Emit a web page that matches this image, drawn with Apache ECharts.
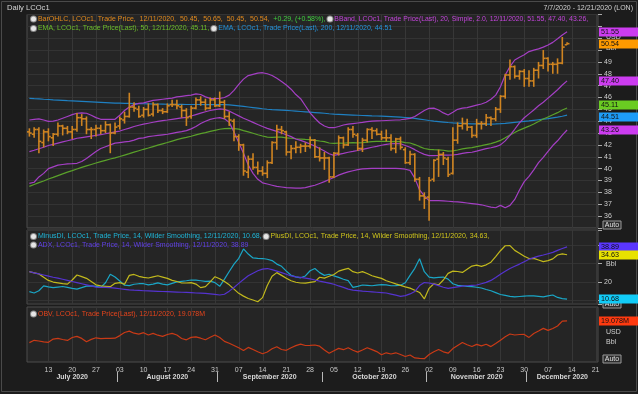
<!DOCTYPE html>
<html><head><meta charset="utf-8">
<script src="https://cdn.jsdelivr.net/npm/echarts@6/dist/echarts.min.js"></script>
<style>html,body{margin:0;padding:0;background:#1c1c1c;}#c{width:638px;height:394px;}</style>
</head><body><div id="c"></div>
<script>
const dates = ['7/7','7/8','7/9','7/10','7/13','7/14','7/15','7/16','7/17','7/20','7/21','7/22','7/23','7/24','7/27','7/28','7/29','7/30','7/31',
'8/3','8/4','8/5','8/6','8/7','8/10','8/11','8/12','8/13','8/14','8/17','8/18','8/19','8/20','8/21','8/24','8/25','8/26','8/27','8/28','8/31',
'9/1','9/2','9/3','9/4','9/7','9/8','9/9','9/10','9/11','9/14','9/15','9/16','9/17','9/18','9/21','9/22','9/23','9/24','9/25','9/28','9/29','9/30',
'10/1','10/2','10/5','10/6','10/7','10/8','10/9','10/12','10/13','10/14','10/15','10/16','10/19','10/20','10/21','10/22','10/23','10/26','10/27','10/28','10/29','10/30',
'11/2','11/3','11/4','11/5','11/6','11/9','11/10','11/11','11/12','11/13','11/16','11/17','11/18','11/19','11/20','11/23','11/24','11/25','11/26','11/27','11/30',
'12/1','12/2','12/3','12/4','12/7','12/8','12/9','12/10','12/11','12/14','12/15','12/16','12/17','12/18','12/21'];
const dayTicks = ['7/13','7/20','7/27','8/3','8/10','8/17','8/24','8/31','9/7','9/14','9/21','9/28','10/5','10/12','10/19','10/26','11/2','11/9','11/16','11/23','11/30','12/7','12/14','12/21'];
const monthNames = ['July 2020','August 2020','September 2020','October 2020','November 2020','December 2020'];
const monthNums = ['7','8','9','10','11','12'];
const lastDate = '12/11/2020';

const openP = [43.1,42.9,43.3,42.2,43.1,42.6,42.9,43.6,43.4,43.1,
 43.3,44.3,44.2,43.3,43.3,43.4,43.2,43.7,43.0,43.6,
 44.1,44.4,45.2,45.0,44.5,45.0,44.6,45.4,44.9,44.8,
 45.4,45.4,45.2,44.9,44.4,45.1,45.8,45.6,45.1,45.8,
 45.3,45.6,44.4,44.0,42.7,42.0,39.7,40.8,40.1,39.8,
 39.6,40.5,42.2,43.3,43.1,41.4,41.7,41.8,41.9,41.9,
 42.4,41.0,40.9,40.9,39.3,41.3,42.6,42.0,43.3,42.8,
 41.7,42.4,43.3,43.2,42.9,42.6,42.6,41.7,42.5,41.6,
 40.5,41.2,39.1,37.7,37.6,39.1,40.8,41.2,40.8,39.6,
 42.4,43.6,43.8,43.5,42.8,43.8,43.8,44.3,44.2,45.0,
 46.1,47.9,48.6,47.8,48.2,47.6,47.4,48.3,48.7,49.3,
 48.8,48.8,48.9,50.45];
const highP = [43.4,43.5,43.5,43.3,43.4,43.0,43.9,43.7,43.6,43.6,
 44.7,44.6,44.4,43.5,43.7,43.7,44.0,43.8,43.9,44.4,
 44.8,46.4,45.6,45.3,45.2,45.5,45.6,45.5,45.1,45.5,
 45.8,45.8,45.4,45.1,45.3,46.0,46.1,45.9,46.0,46.0,
 46.5,45.8,44.8,44.2,42.9,42.1,41.1,41.3,40.6,40.2,
 40.7,42.3,43.7,43.6,43.2,42.0,42.3,42.1,42.2,42.7,
 42.5,41.8,41.4,41.0,41.4,42.8,42.7,43.5,43.6,43.0,
 42.6,43.4,43.5,43.4,43.2,43.3,42.9,42.6,42.7,41.8,
 41.5,41.3,39.3,38.0,39.3,40.8,41.6,41.4,41.0,43.5,
 43.9,44.3,44.2,43.6,44.2,44.0,44.6,44.4,45.2,46.2,
 48.0,49.2,48.7,48.3,48.4,48.3,48.5,49.0,50.0,49.4,
 49.0,49.3,51.1,50.65];
const lowP = [42.7,42.6,41.3,41.8,42.3,41.9,42.7,42.8,42.9,42.5,
 43.1,43.6,42.9,42.5,42.7,42.9,43.0,41.3,42.9,43.3,
 43.8,44.3,44.8,44.3,44.3,44.4,44.4,44.7,44.6,44.7,
 45.2,45.0,44.3,43.6,44.2,45.0,45.3,44.9,45.0,45.2,
 45.2,44.2,43.6,42.3,41.5,39.4,39.2,39.9,39.5,39.4,
 39.2,40.4,41.6,42.9,41.1,40.8,41.3,41.3,41.4,41.7,
 40.9,40.6,39.9,38.8,39.2,41.1,41.7,41.9,42.6,41.5,
 41.4,42.2,42.5,42.8,42.4,42.3,41.5,41.3,41.6,40.4,
 40.3,38.9,37.3,36.6,35.6,38.9,39.3,40.3,39.3,39.5,
 42.1,43.3,43.2,42.6,42.6,43.3,43.6,43.6,44.0,44.7,
 45.9,47.5,47.6,47.5,46.9,46.9,46.9,47.6,48.4,48.2,
 48.0,48.0,48.8,50.45];
const closeP = [43.0,43.3,42.3,43.1,42.7,42.9,43.6,43.4,43.1,43.3,
 44.3,44.2,43.3,43.3,43.4,43.2,43.7,43.0,43.5,44.2,
 44.4,45.2,45.1,44.4,45.0,44.5,45.4,44.9,44.8,45.3,
 45.4,45.3,44.9,44.3,45.1,45.8,45.6,45.1,45.8,45.3,
 45.6,44.4,44.1,42.7,42.0,39.8,40.8,40.1,39.8,39.6,
 40.5,42.2,43.3,43.2,41.4,41.7,41.8,41.9,41.9,42.4,
 41.0,40.9,40.9,39.3,41.3,42.6,42.0,43.3,42.9,41.7,
 42.4,43.3,43.2,42.9,42.6,42.6,41.7,42.5,41.8,40.5,
 41.2,39.1,37.7,37.5,39.0,40.7,41.2,40.9,39.5,42.4,
 43.6,43.8,43.5,42.8,43.8,43.8,44.3,44.2,45.0,46.1,
 47.9,48.6,47.8,48.2,47.6,47.4,48.3,48.7,49.3,48.8,
 48.8,48.9,50.25,50.54];

const bbUpper = [44.10,44.15,44.20,44.10,43.98,44.00,44.10,44.25,44.40,44.55,
 44.67,44.70,44.67,44.50,44.30,44.16,44.15,44.15,44.16,44.50,
 44.90,45.20,45.40,45.50,45.55,45.65,45.75,45.80,45.85,45.90,
 45.95,46.05,46.10,46.15,46.20,46.30,46.25,46.05,45.93,45.90,
 45.93,46.00,46.20,46.60,47.10,47.55,47.85,47.95,48.05,48.09,
 48.00,47.85,47.62,47.35,47.05,46.70,46.25,45.90,45.30,44.70,
 44.25,43.85,43.60,43.45,43.45,43.55,43.68,43.75,43.80,43.85,
 43.90,43.96,44.00,44.02,44.04,44.06,44.08,44.10,44.12,44.18,
 44.24,44.40,44.65,44.90,45.09,45.10,44.95,44.70,44.52,44.75,
 45.00,45.10,45.15,45.25,45.35,45.45,45.60,45.85,46.20,46.90,
 47.90,48.60,49.16,49.40,49.60,49.87,50.00,50.10,50.25,50.43,
 50.65,50.95,51.27,51.55];
const bbMid = [41.43,41.55,41.68,41.80,41.95,42.05,42.15,42.25,42.35,42.45,
 42.56,42.62,42.68,42.74,42.80,42.86,42.94,43.02,43.10,43.17,
 43.30,43.42,43.55,43.66,43.75,43.83,43.91,43.98,44.05,44.10,
 44.16,44.22,44.28,44.33,44.44,44.56,44.68,44.80,44.90,44.98,
 45.04,45.00,44.85,44.65,44.45,44.25,44.08,43.90,43.72,43.55,
 43.40,43.27,43.14,43.00,42.86,42.70,42.50,42.38,42.23,42.08,
 41.90,41.70,41.48,41.25,41.12,41.20,41.28,41.38,41.45,41.53,
 41.62,41.71,41.80,41.88,41.97,42.05,42.10,42.12,42.10,41.95,
 41.80,41.60,41.38,41.20,41.10,41.10,41.12,41.15,41.14,41.15,
 41.20,41.28,41.35,41.38,41.47,41.58,41.68,41.76,41.85,42.00,
 42.34,42.80,43.32,43.86,44.29,44.62,44.95,45.30,45.60,45.95,
 46.30,46.65,47.05,47.40];
const bbLower = [38.76,38.85,39.30,39.60,40.00,40.15,40.30,40.35,40.40,40.42,
 40.45,40.60,40.85,41.15,41.45,41.70,41.85,42.00,42.15,42.20,
 42.25,42.30,42.40,42.55,42.60,42.70,42.75,42.80,42.85,42.90,
 42.98,43.05,43.12,43.20,43.35,43.55,43.80,44.00,44.15,44.25,
 44.30,44.20,43.90,43.10,42.20,41.30,40.30,39.60,39.10,38.80,
 38.70,38.60,38.50,38.45,38.40,38.38,38.35,38.35,38.40,38.50,
 38.60,38.75,38.90,39.08,39.25,39.45,39.60,39.72,39.82,39.92,
 39.98,40.00,40.02,40.02,40.02,40.02,40.02,40.02,40.00,39.95,
 39.85,39.20,38.20,37.70,37.30,37.30,37.30,37.28,37.25,37.22,
 37.20,37.15,37.10,37.05,37.00,36.95,36.85,36.75,36.70,36.90,
 36.70,36.90,37.40,38.20,38.90,39.35,39.90,40.50,40.95,41.45,
 41.95,42.35,42.83,43.26];
const ema50 = [38.50,38.66,38.82,38.96,39.12,39.26,39.41,39.56,39.70,39.83,
 39.97,40.10,40.23,40.35,40.47,40.59,40.70,40.81,40.91,41.02,
 41.14,41.26,41.39,41.51,41.63,41.74,41.86,41.98,42.09,42.20,
 42.32,42.44,42.55,42.63,42.73,42.84,42.95,43.04,43.14,43.23,
 43.32,43.37,43.40,43.38,43.33,43.20,43.10,42.98,42.86,42.75,
 42.66,42.64,42.65,42.66,42.60,42.56,42.52,42.49,42.46,42.45,
 42.39,42.33,42.28,42.16,42.13,42.15,42.14,42.18,42.20,42.18,
 42.19,42.23,42.27,42.29,42.30,42.31,42.28,42.29,42.27,42.20,
 42.16,42.03,41.86,41.70,41.63,41.60,41.58,41.55,41.47,41.50,
 41.57,41.66,41.73,41.77,41.86,41.94,42.03,42.11,42.23,42.38,
 42.60,42.84,43.04,43.25,43.42,43.58,43.77,43.97,44.18,44.36,
 44.54,44.72,44.94,45.11];
const ema200 = [45.93,45.90,45.88,45.85,45.83,45.80,45.78,45.76,45.73,45.71,
 45.69,45.67,45.65,45.63,45.61,45.59,45.57,45.55,45.53,45.52,
 45.51,45.50,45.49,45.48,45.47,45.46,45.45,45.45,45.44,45.43,
 45.43,45.42,45.42,45.41,45.41,45.41,45.41,45.40,45.40,45.40,
 45.40,45.39,45.37,45.34,45.30,45.25,45.20,45.15,45.10,45.05,
 45.01,44.98,44.96,44.94,44.91,44.88,44.85,44.82,44.79,44.76,
 44.73,44.70,44.67,44.63,44.60,44.58,44.56,44.54,44.52,44.50,
 44.48,44.47,44.45,44.44,44.42,44.40,44.38,44.36,44.34,44.31,
 44.28,44.24,44.18,44.12,44.06,44.01,43.97,43.93,43.89,43.86,
 43.84,43.82,43.80,43.78,43.77,43.76,43.76,43.76,43.77,43.79,
 43.82,43.86,43.90,43.94,43.98,44.02,44.07,44.12,44.17,44.22,
 44.28,44.34,44.42,44.51];

const minusDI = [14.7,14.0,15.2,17.8,17.3,16.9,17.2,17.5,17.0,16.5,
 16.1,16.9,17.7,17.8,17.6,17.0,19.5,24.1,22.6,20.5,
 18.2,18.0,18.7,19.0,19.0,18.4,18.8,19.5,18.8,18.4,
 19.2,20.0,20.3,20.6,21.0,20.9,20.6,20.3,20.4,19.6,
 17.6,21.5,25.6,29.6,32.7,37.8,35.0,32.9,32.7,32.6,
 32.2,31.5,29.6,28.4,25.8,23.6,22.7,22.2,23.2,26.0,
 27.2,25.0,23.5,24.1,23.2,22.4,21.4,20.7,17.0,17.6,
 18.3,18.1,17.9,18.2,18.5,18.4,17.9,18.0,18.2,19.5,
 23.5,27.3,32.5,25.5,22.6,22.2,22.4,22.6,21.5,19.0,
 18.1,17.9,17.6,17.4,17.1,16.7,15.9,15.2,14.2,13.2,
 12.7,12.2,11.9,12.1,12.3,12.5,12.4,12.2,11.9,12.4,
 12.9,11.6,11.0,10.68];
const plusDI = [25.5,24.9,24.3,22.5,20.8,19.9,19.5,19.1,18.8,21.0,
 23.7,22.8,21.9,20.2,18.4,17.8,17.6,17.4,19.2,19.6,
 18.7,23.5,24.0,23.0,22.4,22.1,22.7,23.3,22.6,21.9,
 20.8,20.2,19.4,19.4,19.6,18.8,16.9,17.4,20.0,22.8,
 21.7,20.2,18.4,16.1,13.8,12.3,11.0,10.2,9.3,11.5,
 18.0,23.0,25.0,23.5,22.0,20.6,19.8,19.4,19.3,19.7,
 20.1,22.5,22.0,23.0,24.0,25.8,26.6,27.3,25.5,24.8,
 25.5,24.5,23.3,22.6,21.9,20.6,19.8,18.9,18.1,17.3,
 16.6,15.5,14.3,10.8,16.5,19.0,18.4,21.0,24.6,25.8,
 25.6,25.1,26.8,28.5,29.0,28.4,29.2,30.6,33.6,36.8,
 39.5,39.6,37.0,35.5,33.8,32.6,32.7,31.8,30.9,31.5,
 32.4,34.5,35.1,34.63];
const adx = [25.5,24.9,24.3,23.7,23.1,22.5,22.0,21.4,20.8,20.2,
 19.6,19.0,18.4,17.8,17.2,17.0,17.0,16.9,16.6,16.3,
 16.0,15.7,15.5,15.4,15.2,15.1,15.0,14.9,14.8,14.7,
 14.6,14.5,14.4,14.3,14.2,14.0,13.9,13.8,13.5,13.2,
 12.9,13.3,15.0,17.0,19.2,21.3,23.3,24.7,26.0,26.9,
 27.2,26.6,25.8,25.0,24.1,23.2,22.7,22.4,22.0,21.6,
 21.0,20.4,19.9,19.3,18.7,17.8,17.0,16.1,15.5,15.3,
 15.0,14.8,14.6,14.4,14.2,14.0,13.4,12.8,12.2,12.6,
 13.5,14.8,18.0,19.6,19.4,18.8,18.0,17.1,16.5,16.9,
 17.3,17.7,17.9,18.1,18.3,19.0,19.7,20.8,22.4,24.1,
 25.7,27.2,28.4,29.6,30.9,32.2,33.1,33.9,34.5,35.2,
 35.9,37.0,38.0,38.89];
const obv = [-2.6,-0.3,-1.0,-1.8,-2.3,0.9,1.7,0.5,-0.4,2.5,
 3.6,1.6,-1.7,0.6,2.2,1.4,1.6,1.7,1.8,4.4,
 7.5,8.9,6.8,5.9,7.3,5.0,6.6,4.8,3.6,5.5,
 6.6,5.0,1.5,0.2,2.6,3.2,1.8,0.2,2.8,5.0,
 2.5,-1.4,-3.3,-5.5,-7.8,-10.5,-7.4,-9.5,-11.8,-13.7,
 -12.0,-8.8,-6.8,-9.5,-10.3,-7.8,-5.6,-4.1,-5.5,-5.3,
 -5.0,-6.2,-10.0,-13.2,-10.7,-8.4,-9.7,-7.8,-10.2,-12.1,
 -10.0,-7.8,-9.6,-11.6,-14.8,-12.8,-14.0,-12.8,-14.5,-16.5,
 -15.0,-17.9,-18.4,-18.7,-14.5,-11.8,-9.5,-11.8,-13.2,-8.6,
 -5.5,-2.5,-4.8,-6.5,-4.4,-5.9,-4.3,-6.6,-3.5,-0.3,
 3.2,6.0,5.0,5.5,5.6,2.6,6.5,9.0,11.6,9.6,
 11.5,14.0,18.9,19.078];

const FONT = '"Liberation Sans", Arial, sans-serif';
const N = closeP.length - 1;
const f2 = v => v.toFixed(2);
const sg = v => (v >= 0 ? '+' : '') + v.toFixed(2);
const chg = closeP[N] - closeP[N - 1];
const pct = chg / closeP[N - 1] * 100;
const lastOf = a => a[a.length - 1];

const monthCenters = [], monthBounds = [];
monthNums.forEach((m, k) => {
  let first = -1, last = -1;
  dates.forEach((d, i) => { if (d.split('/')[0] === m) { if (first < 0) first = i; last = i; } });
  monthCenters.push((first + last) / 2);
  if (k > 0) monthBounds.push(first - 0.5);
});

const ohlcData = closeP.map((c, i) => [i, openP[i], highP[i], lowP[i], c]);

function renderOHLC(params, api) {
  const i = api.value(0);
  const pO = api.coord([i, api.value(1)]);
  const pH = api.coord([i, api.value(2)]);
  const pL = api.coord([i, api.value(3)]);
  const pC = api.coord([i, api.value(4)]);
  const w = api.size([1, 0])[0] * 0.5;
  const st = { stroke: '#cf8421', lineWidth: 1.6 };
  return { type: 'group', children: [
    { type: 'line', shape: { x1: pH[0], y1: pH[1], x2: pL[0], y2: pL[1] }, style: st },
    { type: 'line', shape: { x1: pO[0] - w, y1: pO[1], x2: pO[0], y2: pO[1] }, style: st },
    { type: 'line', shape: { x1: pC[0], y1: pC[1], x2: pC[0] + w, y2: pC[1] }, style: st }
  ]};
}

function vGrid(xi, yi) {
  return { type: 'custom', xAxisIndex: xi, yAxisIndex: yi, z: 1, silent: true, animation: false,
    data: dayTicks.map(d => [dates.indexOf(d)]), encode: { x: 0 },
    renderItem: (params, api) => {
      const cs = params.coordSys;
      const x = Math.round(api.coord([api.value(0), 0])[0]) + 0.5;
      return { type: 'line', shape: { x1: x, y1: cs.y, x2: x, y2: cs.y + cs.height }, style: { stroke: '#373737', lineWidth: 1 } };
    } };
}
function lineS(data, color, xi, yi, w) {
  return { type: 'line', xAxisIndex: xi, yAxisIndex: yi, data: data, showSymbol: false, symbol: 'none',
    lineStyle: { color: color, width: w || 1.2 }, itemStyle: { color: color }, z: 3, silent: true, animation: false };
}
function tags(xi, yi, list) {
  return { type: 'custom', xAxisIndex: xi, yAxisIndex: yi, z: 20, silent: true, animation: false, clip: false,
    data: list.map(t => [N, t.v]), encode: { x: 0, y: 1 },
    renderItem: (params, api) => {
      const t = list[params.dataIndex];
      const cs = params.coordSys;
      const y = Math.round(api.coord([api.value(0), api.value(1)])[1] + (t.dy || 0));
      const x = cs.x + cs.width + 1;
      return { type: 'group', children: [
        { type: 'rect', shape: { x: x, y: y - 4.5, width: 39, height: 9 }, style: { fill: t.bg } },
        { type: 'text', x: x + 2, y: y + 0.5, style: { text: t.t, fill: '#111', fontSize: 7.2, fontFamily: FONT, verticalAlign: 'middle' } }
      ] };
    } };
}

const txt = (x, y, text, fill, size, extra) => Object.assign({ type: 'text', x: x, y: y, z: 50, silent: true,
  style: Object.assign({ text: text, fill: fill, fontSize: size || 7, fontFamily: FONT, verticalAlign: 'middle' }, extra || {}) });
const autoBox = (x, y) => ({ type: 'group', x: x, y: y, z: 5, silent: true, children: [
  { type: 'rect', shape: { x: 0, y: 0, width: 18, height: 8 }, style: { fill: '#2c2c2c', stroke: '#9a9a9a', lineWidth: 1 } },
  { type: 'text', x: 9, y: 4.5, style: { text: 'Auto', fill: '#e0e0e0', fontSize: 7, fontFamily: FONT, align: 'center', verticalAlign: 'middle' } }
]});

const LF = 7.0;
const icon = { width: 5, height: 5, backgroundColor: '#e6e6e6', borderColor: '#8a8a8a', borderWidth: 1, borderRadius: 3 };
const rs = (c, s) => ({ fill: c, fontSize: s || LF, fontFamily: FONT });

const legend1 = '{ic| }{o| BarOHLC, LCOc1, Trade Price,  ' + lastDate + ',  ' + f2(openP[N]) + ',  ' + f2(highP[N]) + ',  ' + f2(lowP[N]) + ',  ' + f2(closeP[N]) + ',  }' +
  '{g|' + sg(chg) + ', (' + sg(pct) + '%), }{ic| }{m| BBand, LCOc1, Trade Price(Last), 20, Simple, 2.0, ' + lastDate + ', ' + f2(lastOf(bbUpper)) + ', ' + f2(lastOf(bbMid)) + ', ' + f2(lastOf(bbLower)) + ',}';
const legend2 = '{ic| }{e| EMA, LCOc1, Trade Price(Last), 50, ' + lastDate + ', ' + f2(lastOf(ema50)) + ', }{ic| }{b| EMA, LCOc1, Trade Price(Last), 200, ' + lastDate + ', ' + f2(lastOf(ema200)) + '}';
const legend3 = '{ic| }{c| MinusDI, LCOc1, Trade Price, 14, Wilder Smoothing, ' + lastDate + ', ' + f2(lastOf(minusDI)) + ', }{ic| }{y| PlusDI, LCOc1, Trade Price, 14, Wilder Smoothing, ' + lastDate + ', ' + f2(lastOf(plusDI)) + ',}';
const legend4 = '{ic| }{p| ADX, LCOc1, Trade Price, 14, Wilder Smoothing, ' + lastDate + ', ' + f2(lastOf(adx)) + '}';
const legend5 = '{ic| }{r| OBV, LCOc1, Trade Price(Last), ' + lastDate + ', ' + lastOf(obv).toFixed(3) + 'M}';
const rich = { ic: icon, o: rs('#e38a1c'), g: rs('#3fcf3f'), m: rs('#c444dc', 6.85), e: rs('#6cbf2a'), b: rs('#2494dc'),
  c: rs('#1fb4d6'), y: rs('#cfc51c'), p: rs('#6040e6'), r: rs('#e5441c') };

const xHidden = gi => ({ gridIndex: gi, type: 'category', data: dates, boundaryGap: true,
  axisLine: { show: false }, axisTick: { show: false }, axisLabel: { show: false }, splitLine: { show: false } });
const gridStyle = { show: true, backgroundColor: '#252525', borderColor: '#4c4c4c', borderWidth: 1 };

const option = {
  backgroundColor: '#1c1c1c',
  animation: false,
  grid: [
    Object.assign({ left: 27, right: 40, top: 14.5, height: 213.4 }, gridStyle),
    Object.assign({ left: 27, right: 40, top: 230, height: 74.1 }, gridStyle),
    Object.assign({ left: 27, right: 40, top: 307, height: 55 }, gridStyle)
  ],
  xAxis: [
    xHidden(0), xHidden(1),
    { gridIndex: 2, type: 'category', data: dates, boundaryGap: true, axisLine: { show: false }, axisTick: { show: false }, splitLine: { show: false },
      axisLabel: { show: true, interval: (i, v) => dayTicks.indexOf(v) >= 0, formatter: v => v.split('/')[1].padStart(2, '0'),
        color: '#c8c8c8', fontSize: 7, fontFamily: FONT, margin: 5 } },
    { gridIndex: 2, type: 'value', min: -0.5, max: dates.length - 0.5, position: 'bottom', offset: 10,
      axisLine: { show: false }, splitLine: { show: false },
      axisTick: { show: true, customValues: monthBounds, length: 10, inside: false, lineStyle: { color: '#b8b8b8', width: 1 } },
      axisLabel: { show: true, customValues: monthCenters, formatter: v => { const k = monthCenters.indexOf(v); return k >= 0 ? monthNames[k] : ''; },
        color: '#d8d8d8', fontWeight: 'bold', fontSize: 7, fontFamily: FONT, margin: 2 } }
  ],
  yAxis: [
    { gridIndex: 0, type: 'value', position: 'right', min: 35, max: 53, interval: 1,
      axisLine: { show: false }, axisTick: { show: true, length: 4, lineStyle: { color: '#aaa' } },
      axisLabel: { color: '#d0d0d0', fontSize: 7, fontFamily: FONT, margin: 6, formatter: v => (v >= 36 && v <= 49) ? String(v) : '' },
      splitLine: { lineStyle: { color: '#333333' } } },
    { gridIndex: 1, type: 'value', position: 'right', min: 8, max: 48, splitNumber: 4,
      axisLine: { show: false }, axisTick: { show: true, length: 4, lineStyle: { color: '#aaa' } },
      axisLabel: { color: '#d0d0d0', fontSize: 7, fontFamily: FONT, margin: 6, formatter: v => v === 20 ? '20' : '' },
      splitLine: { lineStyle: { color: '#333333' } } },
    { gridIndex: 2, type: 'value', position: 'right', min: -22, max: 33,
      axisLine: { show: false }, axisTick: { show: false }, axisLabel: { show: false }, splitLine: { show: false } }
  ],
  series: [
    vGrid(0, 0),
    lineS(ema200, '#1f80c2', 0, 0),
    lineS(ema50, '#5aa12a', 0, 0),
    lineS(bbUpper, '#a43fc4', 0, 0),
    lineS(bbMid, '#a43fc4', 0, 0),
    lineS(bbLower, '#a43fc4', 0, 0),
    { type: 'custom', xAxisIndex: 0, yAxisIndex: 0, data: ohlcData, renderItem: renderOHLC, encode: { x: 0, y: [1, 2, 3, 4] }, z: 4, silent: true, animation: false },
    tags(0, 0, [
      { v: lastOf(bbUpper), t: f2(lastOf(bbUpper)), bg: '#cc3cf0' },
      { v: closeP[N], t: f2(closeP[N]), bg: '#ff9a00' },
      { v: lastOf(bbMid), t: f2(lastOf(bbMid)), bg: '#cc3cf0' },
      { v: lastOf(ema50), t: f2(lastOf(ema50)), bg: '#6acc22', dy: -3 },
      { v: lastOf(ema200), t: f2(lastOf(ema200)), bg: '#1e9cf8', dy: 2 },
      { v: lastOf(bbLower), t: f2(lastOf(bbLower)), bg: '#cc3cf0' }
    ]),
    vGrid(1, 1),
    lineS(minusDI, '#1aa6c6', 1, 1),
    lineS(plusDI, '#c2b91c', 1, 1),
    lineS(adx, '#5533d0', 1, 1),
    tags(1, 1, [
      { v: lastOf(adx), t: f2(lastOf(adx)), bg: '#5a36ff' },
      { v: lastOf(plusDI), t: f2(lastOf(plusDI)), bg: '#e8e200' },
      { v: lastOf(minusDI), t: f2(lastOf(minusDI)), bg: '#12ccf8' }
    ]),
    vGrid(2, 2),
    lineS(obv, '#c93a16', 2, 2),
    tags(2, 2, [ { v: lastOf(obv), t: lastOf(obv).toFixed(3) + 'M', bg: '#ff3a10' } ])
  ],
  graphic: { elements: [
    { type: 'rect', z: 0, silent: true, shape: { x: 1.5, y: 1.5, width: 635, height: 390 }, style: { fill: 'none', stroke: '#4a4a4a', lineWidth: 1 } },
    txt(7, 8, 'Daily LCOc1', '#d6d6d6', 7.6),
    txt(633, 8, '7/7/2020 - 12/21/2020 (LON)', '#d0d0d0', 7, { align: 'right' }),
    txt(31, 19, legend1, '#ccc', LF, { rich: rich }),
    txt(31, 28.5, legend2, '#ccc', LF, { rich: rich }),
    txt(31, 236.5, legend3, '#ccc', LF, { rich: rich }),
    txt(31, 245, legend4, '#ccc', LF, { rich: rich }),
    txt(31, 314, legend5, '#ccc', LF, { rich: rich }),
    Object.assign(txt(606, 37, 'USD', '#d0d0d0', 7), { z: 5 }),
    Object.assign(txt(606, 48, 'Bbl', '#d0d0d0', 7), { z: 5 }),
    Object.assign(txt(606, 264, 'Bbl', '#d0d0d0', 7), { z: 5 }),
    Object.assign(txt(606, 332, 'USD', '#d0d0d0', 7), { z: 5 }),
    Object.assign(txt(606, 342, 'Bbl', '#d0d0d0', 7), { z: 5 }),
    autoBox(603, 221), autoBox(603, 300), autoBox(603, 355)
  ] }
};
const chart = echarts.init(document.getElementById('c'), null, { renderer: 'canvas' });
chart.setOption(option);
</script></body></html>
